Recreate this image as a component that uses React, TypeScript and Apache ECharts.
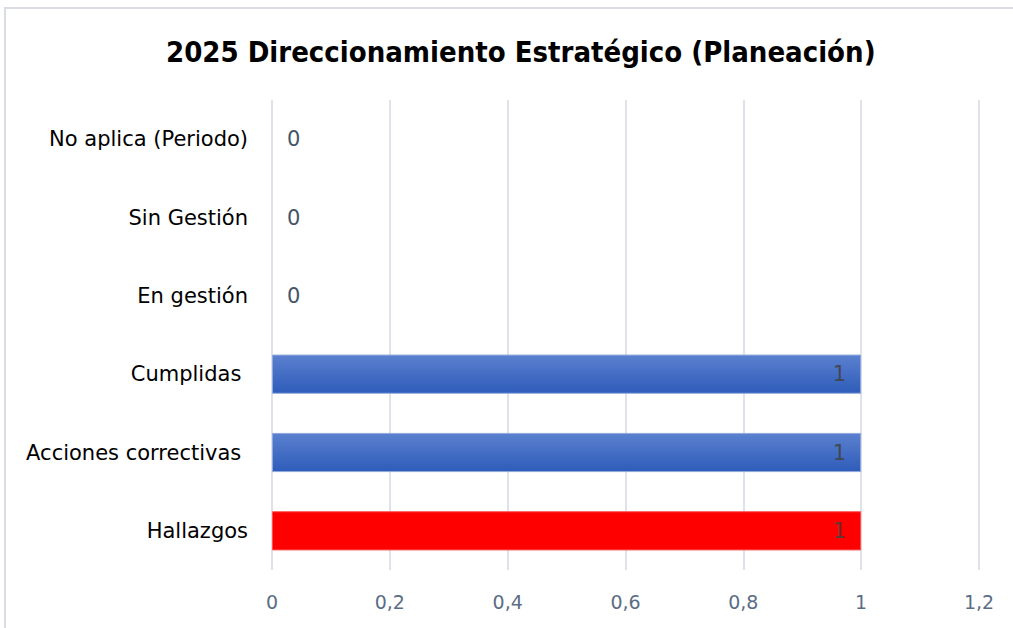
import React, { useEffect, useRef } from "react";
import * as echarts from "echarts";

const categories = ["Hallazgos", "Acciones correctivas ", "Cumplidas ", "En gestión", "Sin Gestión", "No aplica (Periodo)"];
const values = [1, 1, 1, 0, 0, 0];
const xTicks = { min: 0, max: 1.2, interval: 0.2 };
const titleText = "2025 Direccionamiento Estratégico (Planeación)";

const blueGrad = () =>
  new echarts.graphic.LinearGradient(0, 0, 0, 1, [
    { offset: 0, color: "#5b80cf" },
    { offset: 1, color: "#2e5cb9" },
  ]);

export default function App() {
  const ref = useRef<HTMLDivElement>(null);
  useEffect(() => {
    if (!ref.current) return;
    const chart = echarts.init(ref.current, null, { renderer: "svg" });
    chart.setOption({
      animation: false,
      backgroundColor: "#ffffff",
      title: {
        text: titleText,
        left: 161,
        top: 32,
        textStyle: { fontFamily: "DejaVu Sans Condensed", fontWeight: "bold", fontSize: 29, color: "#000000" },
      },
      graphic: [
        {
          type: "rect",
          shape: { x: 5, y: 8, width: 1020, height: 640 },
          style: { fill: "none", stroke: "#d9dde3", lineWidth: 2 },
          silent: true,
        },
      ],
      grid: { left: 272, right: 34, top: 100, bottom: 58 },
      xAxis: {
        type: "value",
        min: xTicks.min,
        max: xTicks.max,
        interval: xTicks.interval,
        axisLine: { show: false },
        axisTick: { show: false },
        splitLine: { lineStyle: { color: "#dfe2ea", width: 2 } },
        axisLabel: {
          color: "#5b6d85",
          fontSize: 19,
          fontFamily: "DejaVu Sans",
          margin: 22,
          formatter: (v: number) => String(Math.round(v * 10) / 10).replace(".", ","),
        },
      },
      yAxis: {
        type: "category",
        data: categories,
        axisLine: { show: false },
        axisTick: { show: false },
        axisLabel: { color: "#000000", fontSize: 21, fontFamily: "DejaVu Sans", margin: 24 },
      },
      series: [
        {
          type: "bar",
          barCategoryGap: "50%",
          data: values.map((v, i) => ({
            value: v,
            itemStyle:
              v === 0
                ? { color: "rgba(0,0,0,0)", borderWidth: 0 }
                : i === 0
                ? { color: "#ff0000", borderColor: "#ff5050", borderWidth: 1 }
                : { color: blueGrad(), borderColor: "#8fa9dc", borderWidth: 1 },
            label:
              v === 0
                ? { show: true, position: "right", distance: 15, color: "#44546a" }
                : { show: true, position: "insideRight", distance: 15, color: "rgba(64,64,64,0.85)" },
          })),
          label: { fontSize: 21, fontFamily: "DejaVu Sans" },
        },
      ],
    });
    return () => chart.dispose();
  }, []);
  return <div ref={ref} style={{ position: "fixed", left: 0, top: 0, width: 1013, height: 628 }} />;
}
